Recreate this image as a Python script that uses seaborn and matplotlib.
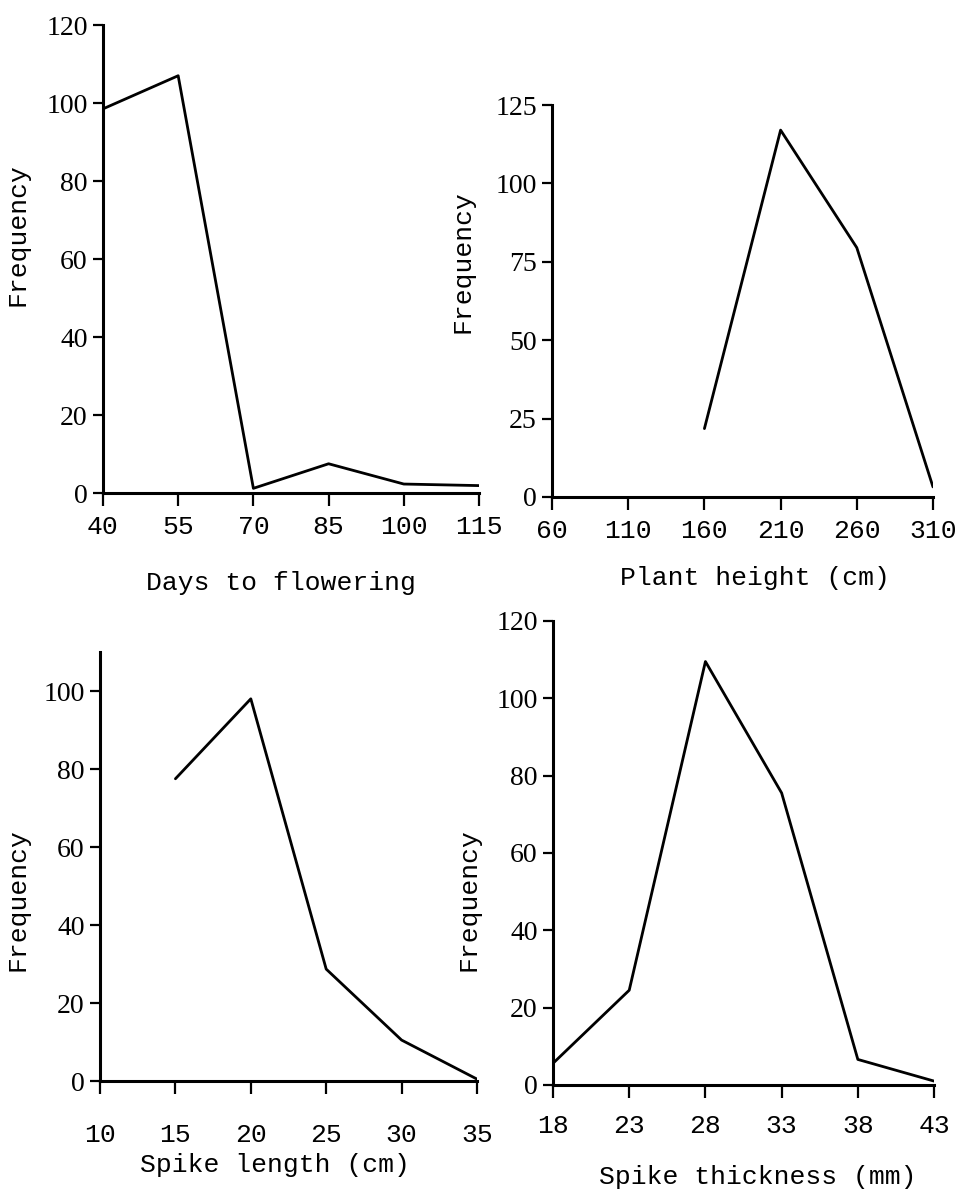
import matplotlib
matplotlib.use("Agg")
import matplotlib.pyplot as plt
import seaborn as sns

# Days to flowering
days_x = [40, 55, 70, 85, 100, 115]
days_freq = [98.5, 107, 1.2, 7.5, 2.3, 1.9]

# Plant height (cm)
height_x = [160, 210, 260, 310]
height_freq = [21.8, 117, 79.5, 3.2]

# Spike length (cm)
length_x = [15, 20, 25, 30, 35]
length_freq = [77.5, 98, 28.7, 10.5, 0.5]

# Spike thickness (mm)
thick_x = [18, 23, 28, 33, 38, 43]
thick_freq = [5.6, 24.5, 109.5, 75.5, 6.6, 1.0]

panels = [
    dict(x=days_x, y=days_freq, xlabel="Days to flowering",
         xticks=[40, 55, 70, 85, 100, 115], xlim=(40, 115),
         yticks=[0, 20, 40, 60, 80, 100, 120], ylim=(0, 120),
         rect=[0.1056, 0.5864, 0.3857, 0.3926], xpad=7,
         xlab_pos=(0.473, -0.192), ylab_pos=(-0.226, 0.553)),
    dict(x=height_x, y=height_freq, xlabel="Plant height (cm)",
         xticks=[60, 110, 160, 210, 260, 310], xlim=(60, 310),
         yticks=[0, 25, 50, 75, 100, 125], ylim=(0, 125),
         rect=[0.5662, 0.5831, 0.3907, 0.3288], xpad=7,
         xlab_pos=(0.533, -0.207), ylab_pos=(-0.234, 0.6)),
    dict(x=length_x, y=length_freq, xlabel="Spike length (cm)",
         xticks=[10, 15, 20, 25, 30, 35], xlim=(10, 35),
         yticks=[0, 20, 40, 60, 80, 100], ylim=(0, 110),
         rect=[0.1026, 0.0931, 0.3866, 0.3599], xpad=21,
         xlab_pos=(0.464, -0.196), ylab_pos=(-0.218, 0.422)),
    dict(x=thick_x, y=thick_freq, xlabel="Spike thickness (mm)",
         xticks=[18, 23, 28, 33, 38, 43], xlim=(18, 43),
         yticks=[0, 20, 40, 60, 80, 100, 120], ylim=(0, 120),
         rect=[0.5672, 0.0898, 0.3908, 0.3893], xpad=12,
         xlab_pos=(0.538, -0.198), ylab_pos=(-0.223, 0.399)),
]

sns.set_style("ticks")
plt.rcParams["font.family"] = ["Liberation Serif", "DejaVu Serif"]
plt.rcParams["text.color"] = "black"
plt.rcParams["axes.labelcolor"] = "black"

mono = "Liberation Mono"

fig = plt.figure(figsize=(9.75, 11.92), dpi=100)

for p in panels:
    ax = fig.add_axes(p["rect"])
    sns.lineplot(x=p["x"], y=p["y"], ax=ax, color="black", linewidth=2.0)
    ax.set_xlim(*p["xlim"])
    ax.set_ylim(*p["ylim"])
    ax.set_xticks(p["xticks"])
    ax.set_yticks(p["yticks"])
    ax.tick_params(axis="both", colors="black", width=1.6)
    ax.tick_params(axis="x", length=9, pad=p["xpad"])
    ax.tick_params(axis="y", length=7, pad=4, labelsize=20)
    for lab in ax.get_xticklabels():
        lab.set_fontfamily(mono)
        lab.set_fontsize(19)
    sns.despine(ax=ax)
    for s in ["left", "bottom"]:
        ax.spines[s].set_linewidth(2.2)
        ax.spines[s].set_color("black")
    ax.set_xlabel(p["xlabel"], family=mono, fontsize=19)
    ax.xaxis.label.set_va("center")
    ax.xaxis.set_label_coords(*p["xlab_pos"])
    ax.set_ylabel("Frequency", family=mono, fontsize=19)
    ax.yaxis.label.set_va("center")
    ax.yaxis.set_label_coords(*p["ylab_pos"])
    ax.patch.set_alpha(0)

fig.savefig("out.png", dpi=100)
